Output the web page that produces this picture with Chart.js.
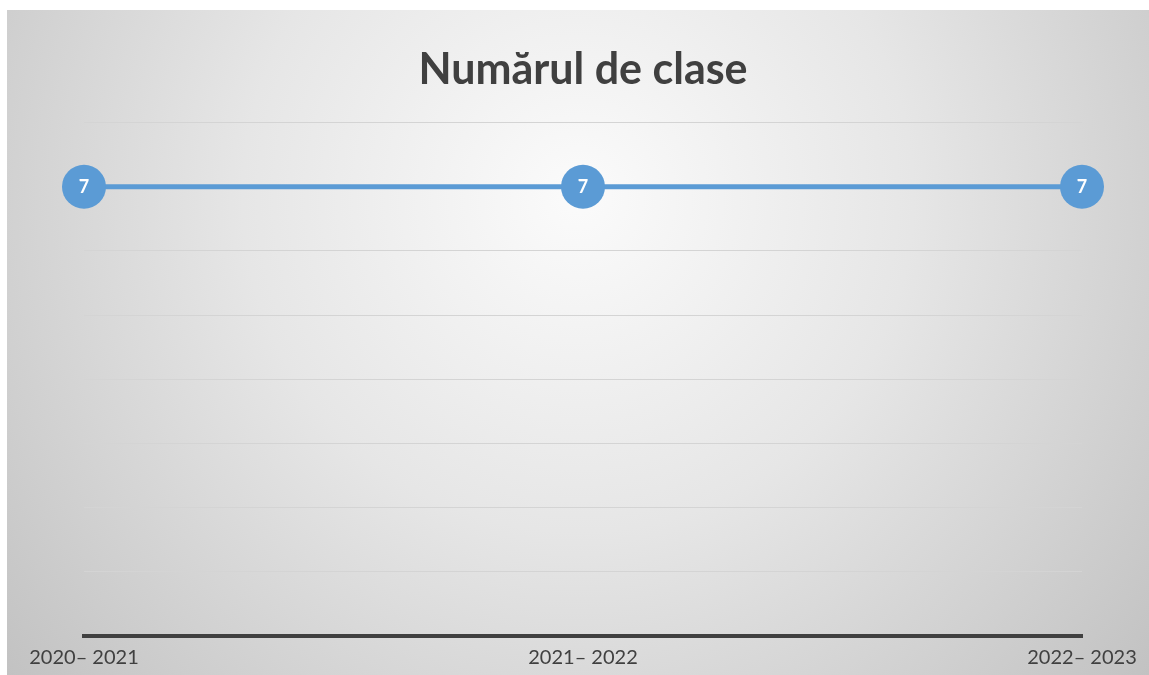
<!DOCTYPE html>
<html>
<head>
<meta charset="utf-8">
<script src="https://cdn.jsdelivr.net/npm/chart.js@4/dist/chart.umd.min.js"></script>
<style>
  html, body { margin: 0; padding: 0; background: #fff; }
  #wrap {
    position: absolute; left: 7px; top: 10px; width: 1142px; height: 665px;
    background: radial-gradient(circle farthest-corner at 50% 28%, #fbfbfb 0%, #e6e6e6 45%, #c2c2c2 100%);
  }
</style>
</head>
<body>
<div id="wrap"><canvas id="myChart" width="1142" height="665"></canvas></div>
<script>
const years = ['2020– 2021', '2021– 2022', '2022– 2023'];
const classes = [7, 7, 7];
const chartTitle = 'Numărul de clase';

// etichetele albe din cercuri
const pointLabels = {
    id: 'pointLabels',
    afterDatasetsDraw(chart) {
        const ctx = chart.ctx;
        const meta = chart.getDatasetMeta(0);
        ctx.save();
        ctx.fillStyle = '#ffffff';
        ctx.font = 'bold 18px Lato';
        ctx.textAlign = 'center';
        ctx.textBaseline = 'middle';
        meta.data.forEach((pt, i) => {
            ctx.fillText(String(classes[i]), pt.x, pt.y);
        });
        ctx.restore();
    }
};

function drawChart() {
    const ctx = document.getElementById('myChart').getContext('2d');
    new Chart(ctx, {
        type: 'line',
        data: {
            labels: years,
            datasets: [{
                label: chartTitle,
                data: classes,
                borderColor: '#5b9bd5',
                backgroundColor: '#5b9bd5',
                borderWidth: 5,
                pointRadius: 22,
                pointHoverRadius: 22,
                pointBorderWidth: 0,
                pointBackgroundColor: '#5b9bd5',
                clip: false
            }]
        },
        options: {
            responsive: false,
            animation: false,
            layout: { padding: { left: 77, right: 67, top: 0, bottom: 0 } },
            plugins: {
                legend: { display: false },
                tooltip: { enabled: false },
                title: {
                    display: true,
                    text: chartTitle,
                    color: '#404040',
                    font: { family: 'Lato', size: 43, weight: 'bold', lineHeight: 1.2 },
                    padding: { top: 34, bottom: 27 }
                }
            },
            scales: {
                x: {
                    offset: false,
                    grid: { display: false, drawTicks: false },
                    border: { display: true, color: '#404040', width: 4 },
                    ticks: {
                        color: '#404040',
                        font: { family: 'Lato', size: 20 },
                        padding: 10,
                        maxRotation: 0
                    },
                    afterFit: scale => { scale.height = 39; }
                },
                y: {
                    min: 0,
                    max: 8,
                    ticks: { display: false, stepSize: 1 },
                    grid: { color: '#d4d4d4', lineWidth: 1, drawTicks: false },
                    border: { display: false },
                    afterFit: scale => { scale.width = 0; }
                }
            }
        },
        plugins: [pointLabels]
    });
}

window.onload = drawChart;
</script>
</body>
</html>
